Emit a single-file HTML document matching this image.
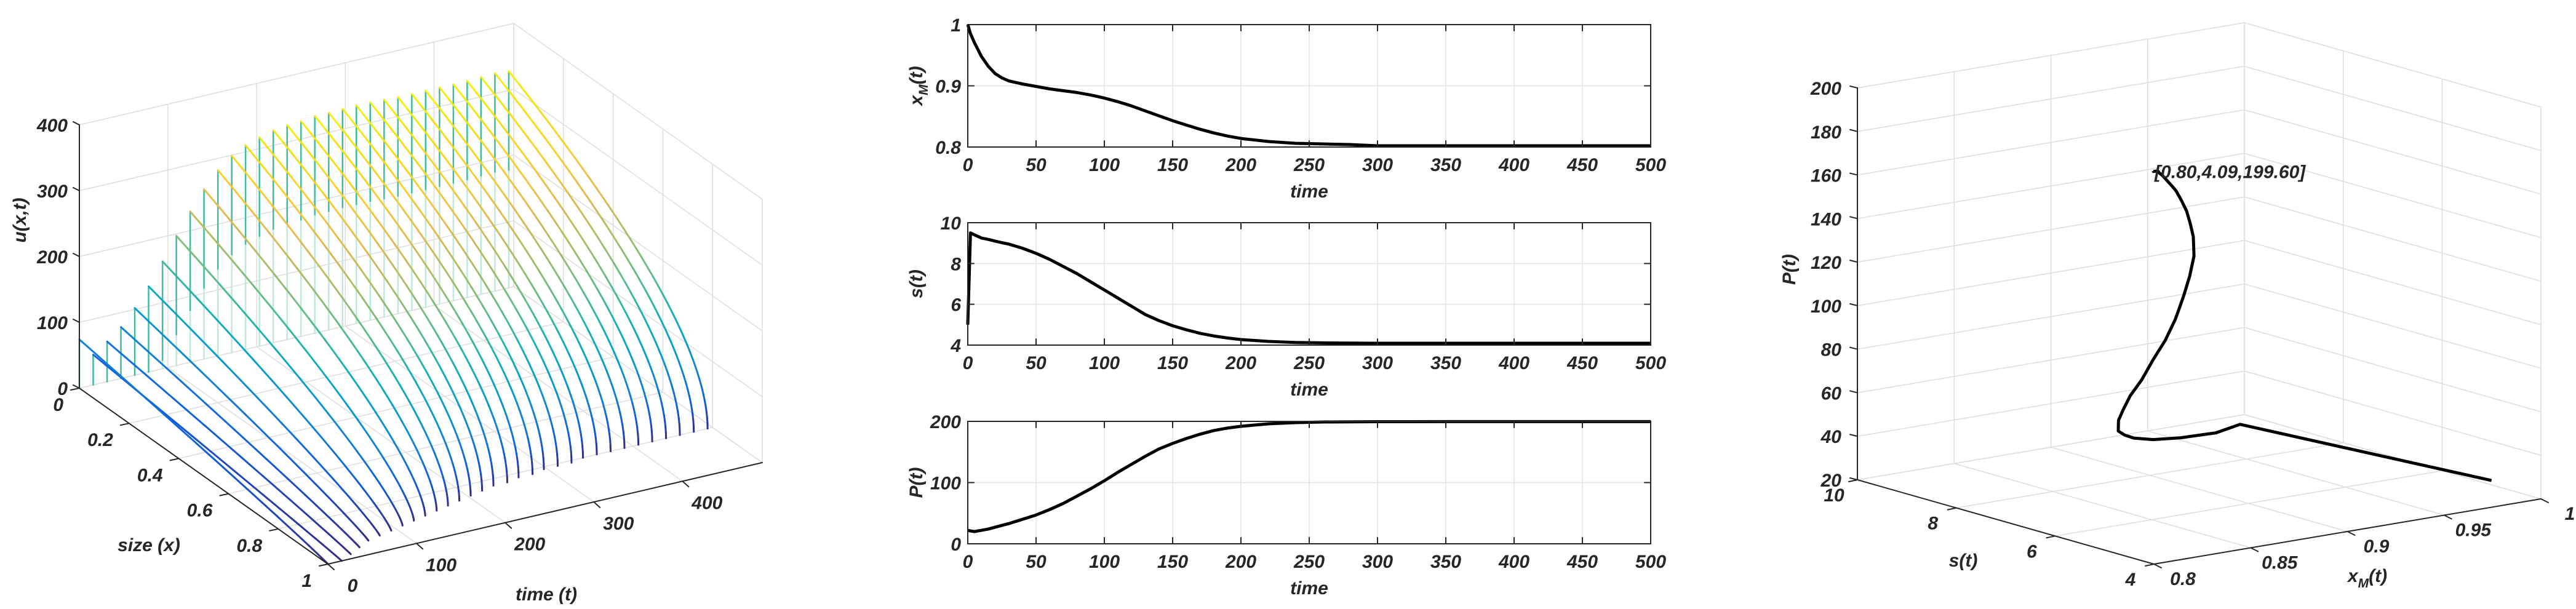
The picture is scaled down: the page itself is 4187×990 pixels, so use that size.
<!DOCTYPE html>
<html><head><meta charset="utf-8"><style>
html,body{margin:0;padding:0;background:#fff;}
svg{display:block;font-family:"Liberation Sans",Arial,sans-serif;font-weight:bold;font-style:italic;}
</style></head><body>
<svg id="fig" width="4187" height="990" viewBox="0 0 4187 990" xmlns="http://www.w3.org/2000/svg">
<rect width="4187" height="990" fill="#fff"/>
<g id="left"></g>
<g id="mid"></g>
<g id="right"></g>
</svg>
<script>
// ---- time series data (shared) ----
const tS  = [0,2,5,10,15,20,25,30,40,50,60,70,80,90,100,110,120,130,140,150,160,170,180,190,200,220,240,260,280,300,350,400,450,500];
const xMS = [1.0,0.985,0.97,0.948,0.932,0.92,0.913,0.908,0.903,0.899,0.895,0.892,0.889,0.885,0.88,0.874,0.867,0.859,0.851,0.843,0.836,0.829,0.823,0.818,0.814,0.809,0.806,0.805,0.804,0.802,0.802,0.802,0.802,0.802];
const sS  = [5.0,9.5,9.4,9.25,9.18,9.1,9.02,8.95,8.75,8.5,8.2,7.85,7.5,7.1,6.7,6.3,5.9,5.5,5.2,4.95,4.75,4.58,4.45,4.35,4.27,4.18,4.13,4.11,4.1,4.09,4.09,4.09,4.09,4.09];
const PS  = [22,21,20,22,24,27,30,33,40,47,56,66,78,90,103,117,130,143,155,164,172,179,185,189,192,196,198,199,199.3,199.5,199.6,199.6,199.6,199.6];
// ---- surface slices data ----
const uT   = [0,15.6,31.3,46.9,62.5,78.1,93.8,109.4,125,140.6,156.3,171.9,187.5,203.1,218.8,234.4,250,265.6,281.3,296.9,312.5,328.1,343.8,359.4,375,390.6,406.3,421.9,437.5,453.1,468.8,484.4];
const u0   = [74,46,61,78,102,130,163,197,229,258,282,299,310,317,323,326,327,330,330,331,331,331,330,329,329,329,329,329,329,330,331,329];
const xEnd = [1,1,0.98,0.96,0.94,0.93,0.92,0.91,0.9,0.89,0.88,0.87,0.86,0.85,0.84,0.83,0.83,0.82,0.82,0.81,0.81,0.81,0.8,0.8,0.8,0.8,0.8,0.8,0.8,0.8,0.8,0.8];
const zTicks=[0,100,200,300,400], sizeTicks=[0,0.2,0.4,0.6,0.8,1], timeTicks=[0,100,200,300,400];
const midTicks=[0,50,100,150,200,250,300,350,400,450,500];
const pTicks=[20,40,60,80,100,120,140,160,180,200], sTicks=[4,6,8,10], xmTicks=[0.8,0.85,0.9,0.95,1];

const FS=30;
const NS="http://www.w3.org/2000/svg";
function el(parent,tag,attrs){const e=document.createElementNS(NS,tag);for(const k in attrs)e.setAttribute(k,attrs[k]);parent.appendChild(e);return e;}
function line(p,a,b,stroke,w){const e=el(p,'line',{x1:a[0],y1:a[1],x2:b[0],y2:b[1],stroke:stroke,'stroke-width':w,'stroke-linecap':'round'});return e;}
function txt(p,x,y,s,anchor,rot){const e=el(p,'text',{x:0,y:0,'font-size':FS,fill:'#262626','text-anchor':anchor||'middle',transform:'translate('+x+','+y+')'+(rot?' rotate('+rot+')':'')});e.textContent=s;return e;}
function fmt(v){return String(v);}
const parula=[[53,42,135],[15,92,221],[18,125,216],[7,156,207],[21,177,180],[89,189,140],[165,190,107],[225,185,82],[252,206,46],[245,227,15],[249,251,14]];
function cmap(v){v=Math.max(0,Math.min(1,v))*10;const i=Math.min(9,Math.floor(v)),f=v-i;const a=parula[i],b=parula[i+1];return 'rgb('+a.map((c,j)=>Math.round(c+(b[j]-c)*f)).join(',')+')';}

// ================= LEFT 3D =================
(function(){
const g=document.getElementById('left');
const TMAX=490;
function L(x,t,z){return [129+404*x+706*t/TMAX, 631+286*x-165*t/TMAX-1.07*z];}
const grid='#dedede';
zTicks.forEach(z=>{
 let e=line(g,L(0,0,z),L(0,TMAX,z),grid,1.5);  
 e=line(g,L(0,TMAX,z),L(1,TMAX,z),grid,1.5);  
});
timeTicks.concat([TMAX]).forEach(t=>{
 let e=line(g,L(0,t,0),L(0,t,400),grid,1.5);  
 e=line(g,L(0,t,0),L(1,t,0),grid,1.5);  
});
sizeTicks.forEach(x=>{
 let e=line(g,L(x,TMAX,0),L(x,TMAX,400),grid,1.5);  
 e=line(g,L(x,0,0),L(x,TMAX,0),grid,1.5);  
});
for(let k=uT.length-1;k>=0;k--){
 const t=uT[k],U=u0[k],xe=xEnd[k];
 if(k===0){
  let v=line(g,L(0,t,0),L(0,t,U),'#2bb39a',2.5);
   
 } else {
  const cut=Math.max(0,U-150);
  let v=line(g,L(0,t,0),L(0,t,cut),'#bfe9de',2.5);
   
  v=line(g,L(0,t,cut),L(0,t,U),'#3fbca3',2.5);
   
 }
 const p=1-0.5*Math.min(1,U/330);
 const n=40;let prev=null,pu=U;
 const cg=el(g,'g',{});
  
 for(let i=0;i<=n;i++){
  const x=xe*(1-Math.pow(1-i/n,2));
  const u=U*Math.pow(Math.max(0,1-x/xe),p);
  const pt=L(x,t,u);
  if(prev){line(cg,prev,pt,cmap((u+pu)/2/345),3);}
  prev=pt;pu=u;
 }
}
let a=line(g,L(0,0,0),L(0,0,400),'#262626',2);  
a=line(g,L(0,0,0),L(1,0,0),'#262626',2);  
a=line(g,L(1,0,0),L(1,TMAX,0),'#262626',2);  
zTicks.forEach(z=>{const p=L(0,0,z);line(g,p,[p[0]-10,p[1]-5],'#262626',2);
 const e=txt(g,110,p[1]+11,fmt(z),'end');  });
sizeTicks.forEach(x=>{const p=L(x,0,0);line(g,p,[p[0]-14,p[1]+3],'#262626',2);
 const e=txt(g,p[0]-26,p[1]+37,fmt(x),'end');  });
timeTicks.forEach(t=>{const p=L(1,t,0);line(g,p,[p[0]+10,p[1]+9],'#262626',2);
 const e=txt(g,p[0]+40,p[1]+45,fmt(t),'middle');  });
let e=txt(g,42,358,'u(x,t)','middle',-90);  
e=txt(g,242,896,'size (x)','middle');  
e=txt(g,888,976,'time (t)','middle');  
})();

// ================= MIDDLE PANELS =================
(function(){
const g=document.getElementById('mid');
const X0=1573,X1=2683;
const panels=[
 {top:40,vals:xMS,min:0.8,max:1,ticks:[0.8,0.9,1],name:'xm'},
 {top:362,vals:sS,min:4,max:10,ticks:[4,6,8,10],name:'s'},
 {top:685,vals:PS,min:0,max:200,ticks:[0,100,200],name:'p'}];
const H=199;
panels.forEach(pn=>{
 const pg=el(g,'g',{});
  
 const xs=t=>X0+t/500*(X1-X0), ys=v=>pn.top+H-(v-pn.min)/(pn.max-pn.min)*H;
 midTicks.forEach(t=>{if(t>0&&t<500)line(pg,[xs(t),pn.top],[xs(t),pn.top+H],'#e3e3e3',1.5);});
 pn.ticks.forEach(v=>{if(v>pn.min&&v<pn.max)line(pg,[X0,ys(v)],[X1,ys(v)],'#e3e3e3',1.5);});
 let d='';pn.vals.forEach((v,i)=>{d+=(i?'L':'M')+xs(tS[i]).toFixed(1)+','+ys(v).toFixed(1);});
 const c=el(pg,'path',{d:d,fill:'none',stroke:'#000','stroke-width':5,'stroke-linejoin':'round'});
  
 const b=el(pg,'rect',{x:X0,y:pn.top,width:X1-X0,height:H,fill:'none',stroke:'#262626','stroke-width':2});
  
 midTicks.forEach(t=>{line(pg,[xs(t),pn.top+H],[xs(t),pn.top+H-10],'#262626',2);line(pg,[xs(t),pn.top],[xs(t),pn.top+10],'#262626',2);
  const e=txt(pg,xs(t),pn.top+H+39,fmt(t),'middle');  });
 pn.ticks.forEach(v=>{line(pg,[X0,ys(v)],[X0+10,ys(v)],'#262626',2);line(pg,[X1,ys(v)],[X1-10,ys(v)],'#262626',2);
  const e=txt(pg,1562,ys(v)+11,fmt(v),'end');  });
 const tl=txt(pg,(X0+X1)/2,pn.top+H+82,'time','middle');  
 const yl=el(pg,'text',{x:0,y:0,'font-size':FS,fill:'#262626','text-anchor':'middle',transform:'translate(1499,'+(pn.top+H/2)+') rotate(-90)'});
  
 if(pn.name==='xm'){yl.innerHTML='x<tspan font-size="21" dy="9">M</tspan><tspan dy="-9">(t)</tspan>';}
 else yl.textContent=pn.name==='s'?'s(t)':'P(t)';
});
})();

// ================= RIGHT 3D =================
(function(){
const g=document.getElementById('right');
function R(xm,s,P){return [3501+(xm-0.8)/0.2*629-(s-4)/6*482, 917-(xm-0.8)/0.2*106-(s-4)/6*137-(P-20)*637/180];}
const grid='#dedede';
pTicks.forEach(P=>{
 let e=line(g,R(0.8,10,P),R(1,10,P),grid,1.5);  
 e=line(g,R(1,10,P),R(1,4,P),grid,1.5);  
});
xmTicks.forEach(x=>{
 let e=line(g,R(x,10,20),R(x,10,200),grid,1.5);  
 e=line(g,R(x,10,20),R(x,4,20),grid,1.5);  
});
sTicks.forEach(s=>{
 let e=line(g,R(1,s,20),R(1,s,200),grid,1.5);  
 e=line(g,R(0.8,s,20),R(1,s,20),grid,1.5);  
});
let d='';xMS.forEach((v,i)=>{const p=R(v,sS[i],PS[i]);d+=(i?'L':'M')+p[0].toFixed(1)+','+p[1].toFixed(1);});
const c=el(g,'path',{d:d,fill:'none',stroke:'#000','stroke-width':5,'stroke-linejoin':'round'});
 
let a=line(g,R(0.8,10,20),R(0.8,10,200),'#262626',2);  
a=line(g,R(0.8,10,20),R(0.8,4,20),'#262626',2);  
a=line(g,R(0.8,4,20),R(1,4,20),'#262626',2);  
pTicks.forEach(P=>{const p=R(0.8,10,P);line(g,p,[p[0]-12,p[1]-3],'#262626',2);
 const e=txt(g,2993,p[1]+11,fmt(P),'end');  });
sTicks.forEach(s=>{const p=R(0.8,s,20);line(g,p,[p[0]-14,p[1]+3],'#262626',2);
 const e=txt(g,p[0]-38,p[1]+35,fmt(s),'middle');  });
xmTicks.forEach(x=>{const p=R(x,4,20);line(g,p,[p[0]+12,p[1]+6],'#262626',2);
 const e=txt(g,p[0]+47,p[1]+34,fmt(x),'middle');  });
let e=txt(g,2918,438,'P(t)','middle',-90);  
e=txt(g,3191,921,'s(t)','middle');  
e=el(g,'text',{x:3848,y:946,'font-size':FS,fill:'#262626','text-anchor':'middle'});
e.innerHTML='x<tspan font-size="21" dy="9">M</tspan><tspan dy="-9">(t)</tspan>';
 
const last=xMS.length-1;const lp=R(xMS[last],sS[last],PS[last]);
e=txt(g,lp[0]+2,lp[1]+11,'['+xMS[last].toFixed(2)+','+sS[last].toFixed(2)+','+PS[last].toFixed(2)+']','start');
 
})();
</script>
</body></html>
